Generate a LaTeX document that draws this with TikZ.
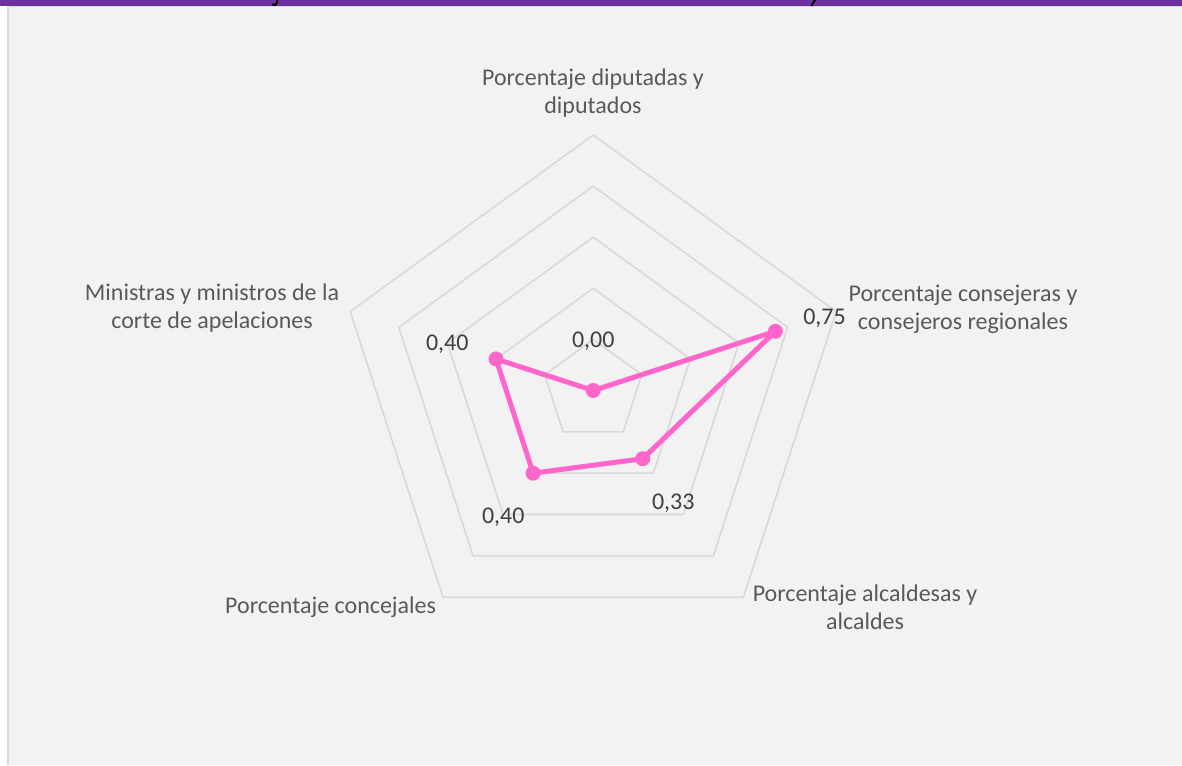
\documentclass[tikz,border=0pt]{standalone}
\usepackage{fontspec}
\setmainfont{Carlito}
\usetikzlibrary{calc}
\definecolor{bgc}{HTML}{F2F2F2}
\definecolor{purp}{HTML}{7030A0}
\definecolor{framec}{HTML}{D9D9D9}
\definecolor{gridc}{HTML}{D9D9D9}
\definecolor{seriesc}{HTML}{FF66CC}
\definecolor{axtext}{HTML}{595959}
\definecolor{dltext}{HTML}{404040}
\tikzset{
  ring/.style={draw=gridc, line width=1.6pt, line join=round},
  series/.style={draw=seriesc, line width=5pt, line join=round},
  marker/.style={circle, fill=seriesc, minimum size=15pt, inner sep=0pt},
  axlabel/.style={text=axtext, align=center, inner sep=0pt, font=\fontsize{24}{28}\selectfont},
  dlabel/.style={text=dltext, inner sep=0pt, font=\fontsize{24}{28}\selectfont},
}
\begin{document}
\begin{tikzpicture}[x=1pt,y=-1pt]
\useasboundingbox (0,0) rectangle (1182,765);
\fill[white] (0,0) rectangle (1182,765);
\fill[bgc] (8,6) rectangle (1182,765);
\draw[framec, line width=1.5pt] (8,765) -- (8,6.75) -- (1182,6.75);
\fill[purp] (0,0) rectangle (1182,6);
% descenders of the cut-off title
\draw[black, line width=2pt, line cap=round] (277,0) -- (277,2.5) .. controls (277,5) and (274.5,5.5) .. (272.5,4.5);
\draw[black, line width=2pt, line cap=round] (815,0) -- (811.5,5.5);

\coordinate (c) at (593.2,390.5);
\foreach \k in {1,...,5}{
  \draw[ring, shift={(c)}] (-90:\k*51.1) -- (-18:\k*51.1) -- (54:\k*51.1) -- (126:\k*51.1) -- (198:\k*51.1) -- cycle;
}

% data points (R = 255.5)
\node[marker] (mdip) at ($(c)+(-90:0)$) {};
\node[marker] (mcon) at ($(c)+(-18:191.6)$) {};
\node[marker] (malc) at ($(c)+(54:84.3)$) {};
\node[marker] (mcnc) at ($(c)+(126:102.2)$) {};
\node[marker] (mmin) at ($(c)+(198:102.2)$) {};
\draw[series] (mdip.center) -- (mcon.center) -- (malc.center) -- (mcnc.center) -- (mmin.center) -- cycle;

% data labels
\node[dlabel] (ldip) at (593.3,341) {0,00};
\node[dlabel] (lcon) at (824.5,318) {0,75};
\node[dlabel] (lalc) at (673.3,503.5) {0,33};
\node[dlabel] (lcnc) at (503.3,517) {0,40};
\node[dlabel] (lmin) at (447.3,344.5) {0,40};

% axis labels
\node[axlabel] (adip) at (593,93) {Porcentaje diputadas y\\diputados};
\node[axlabel] (acon) at (963,309) {Porcentaje consejeras y\\consejeros regionales};
\node[axlabel] (aalc) at (865,607.5) {Porcentaje alcaldesas y\\alcaldes};
\node[axlabel] (acnc) at (330.6,607) {Porcentaje concejales};
\node[axlabel] (amin) at (212,308) {Ministras y ministros de la\\corte de apelaciones};
\end{tikzpicture}
\end{document}
